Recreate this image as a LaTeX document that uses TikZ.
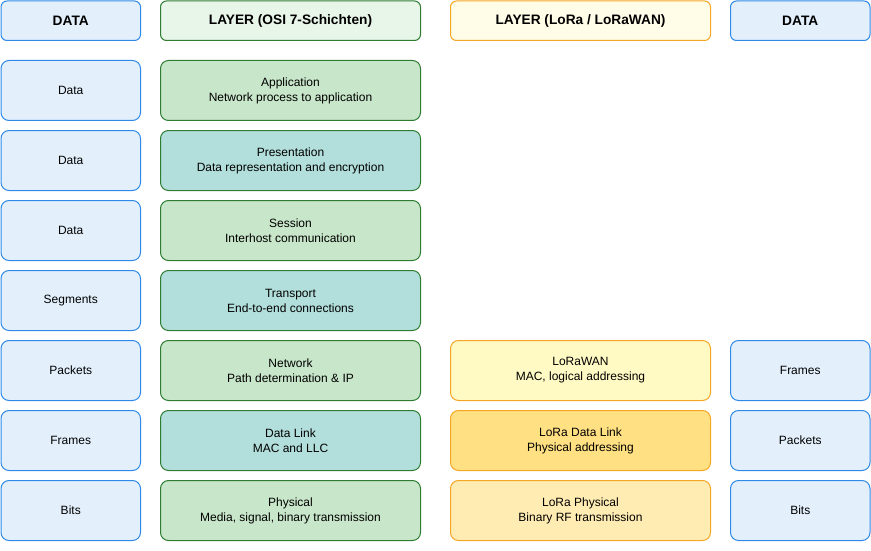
\documentclass[tikz,border=0pt]{standalone}
\usepackage{fontspec}
\setmainfont{Liberation Sans}
\definecolor{bfill}{HTML}{E3F0FC}
\definecolor{bdraw}{HTML}{2E8AE6}
\definecolor{ghfill}{HTML}{E8F5E9}
\definecolor{gdraw}{HTML}{2E7D32}
\definecolor{gfill}{HTML}{C8E6C9}
\definecolor{tfill}{HTML}{B2DFDB}
\definecolor{yhfill}{HTML}{FFFDE7}
\definecolor{ydraw}{HTML}{F5A623}
\definecolor{y1fill}{HTML}{FFF9C4}
\definecolor{y2fill}{HTML}{FFE082}
\definecolor{y3fill}{HTML}{FFECB3}
\begin{document}
\begin{tikzpicture}[x=1pt,y=-1pt,
  box/.style={rectangle, rounded corners=8pt, line width=1pt, minimum height=60pt,
    inner sep=0pt, align=center, font=\fontsize{12}{15}\selectfont, anchor=north west},
  hbox/.style={box, rounded corners=6pt, minimum height=39.5pt, font=\fontsize{13.7}{16}\selectfont\bfseries},
  narrow/.style={minimum width=139.5pt},
  wide/.style={minimum width=260pt},
  bluebox/.style={draw=bdraw, fill=bfill, narrow},
  greenbox/.style={draw=gdraw, fill=gfill, wide},
  tealbox/.style={draw=gdraw, fill=tfill, wide},
  ybox/.style={draw=ydraw, wide}]
\useasboundingbox (0,0) rectangle (871,551);
% headers
\node[hbox, bluebox] (h1) at (0.5,0.5) {DATA};
\node[hbox, draw=gdraw, fill=ghfill, wide] (h2) at (160,0.5) {LAYER (OSI 7-Schichten)};
\node[hbox, ybox, fill=yhfill] (h3) at (450,0.5) {LAYER (LoRa / LoRaWAN)};
\node[hbox, bluebox] (h4) at (730,0.5) {DATA};
% column 1
\node[box, bluebox] (d1) at (0.5,60) {Data};
\node[box, bluebox] (d2) at (0.5,130) {Data};
\node[box, bluebox] (d3) at (0.5,200) {Data};
\node[box, bluebox] (d4) at (0.5,270) {Segments};
\node[box, bluebox] (d5) at (0.5,340) {Packets};
\node[box, bluebox] (d6) at (0.5,410) {Frames};
\node[box, bluebox] (d7) at (0.5,480) {Bits};
% column 2
\node[box, greenbox] (o1) at (160,60) {Application\\Network process to application};
\node[box, tealbox] (o2) at (160,130) {Presentation\\Data representation and encryption};
\node[box, greenbox] (o3) at (160,200) {Session\\Interhost communication};
\node[box, tealbox] (o4) at (160,270) {Transport\\End-to-end connections};
\node[box, greenbox] (o5) at (160,340) {Network\\Path determination \& IP};
\node[box, tealbox] (o6) at (160,410) {Data Link\\MAC and LLC};
\node[box, greenbox] (o7) at (160,480) {Physical\\Media, signal, binary transmission};
% column 3
\node[box, ybox, fill=y1fill] (l1) at (450,340) {LoRaWAN\\MAC, logical addressing};
\node[box, ybox, fill=y2fill] (l2) at (450,410) {LoRa Data Link\\Physical addressing};
\node[box, ybox, fill=y3fill] (l3) at (450,480) {LoRa Physical\\Binary RF transmission};
% column 4
\node[box, bluebox] (e1) at (730,340) {Frames};
\node[box, bluebox] (e2) at (730,410) {Packets};
\node[box, bluebox] (e3) at (730,480) {Bits};
\end{tikzpicture}
\end{document}
